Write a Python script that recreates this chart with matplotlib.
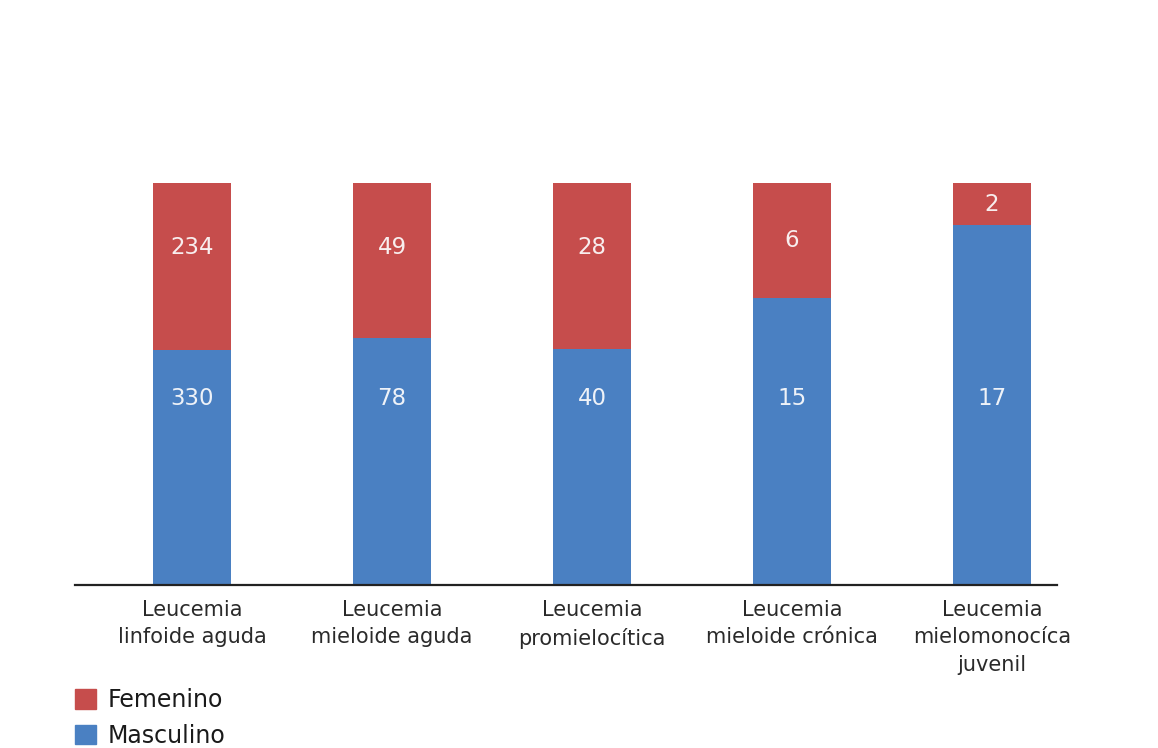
import matplotlib
matplotlib.use("Agg")
import matplotlib.pyplot as plt
from matplotlib.patches import Patch
import numpy as np

categories = ["Leucemia\nlinfoide aguda", "Leucemia\nmieloide aguda", "Leucemia\npromielocítica",
              "Leucemia\nmieloide crónica", "Leucemia\nmielomonocíca\njuvenil"]
femenino = [234, 49, 28, 6, 2]
masculino = [330, 78, 40, 15, 17]

red = "#C64D4C"
blue = "#4A80C2"

fig = plt.figure(figsize=(11.58, 7.48), dpi=100)
ax = fig.add_axes([75/1158, 1-585/748, (1057-75)/1158, (585-183)/748])

fem = np.array(femenino, float)
mas = np.array(masculino, float)
tot = fem + mas
fm = mas / tot
ff = fem / tot
x = np.arange(len(categories))
w = 0.39
ax.bar(x, fm, width=w, color=blue, linewidth=0)
ax.bar(x, ff, bottom=fm, width=w, color=red, linewidth=0)

for i in range(len(x)):
    ym = 0.465 if fm[i] > 0.55 else fm[i] / 2
    ax.text(x[i], ym, str(masculino[i]), ha="center", va="center", color="#EEF2F8", fontsize=16.5)
    yf = max(0.84, fm[i] + ff[i] / 2)
    ax.text(x[i], yf, str(femenino[i]), ha="center", va="center", color="#F8EEEE", fontsize=16.5)

ax.set_xlim(-0.585, 4.325)
ax.set_ylim(0, 1)
for s in ["left", "right", "top"]:
    ax.spines[s].set_visible(False)
ax.spines["bottom"].set_linewidth(1.6)
ax.spines["bottom"].set_color("#222222")
ax.set_yticks([])
ax.set_xticks(x)
ax.set_xticklabels(categories, fontsize=15, color="#2A2A2A", linespacing=1.45)
ax.tick_params(axis="x", length=0, pad=11)

handles = [Patch(color=red, label="Femenino"), Patch(color=blue, label="Masculino")]
fig.legend(handles=handles, loc="upper left", bbox_to_anchor=(75/1158, 1-688/748), frameon=False,
           fontsize=17, handlelength=0.9, handleheight=0.9, handletextpad=0.5, labelspacing=0.5,
           labelcolor="#1A1A1A", borderaxespad=0, borderpad=0)

fig.savefig("out.png", dpi=100, facecolor="white")
